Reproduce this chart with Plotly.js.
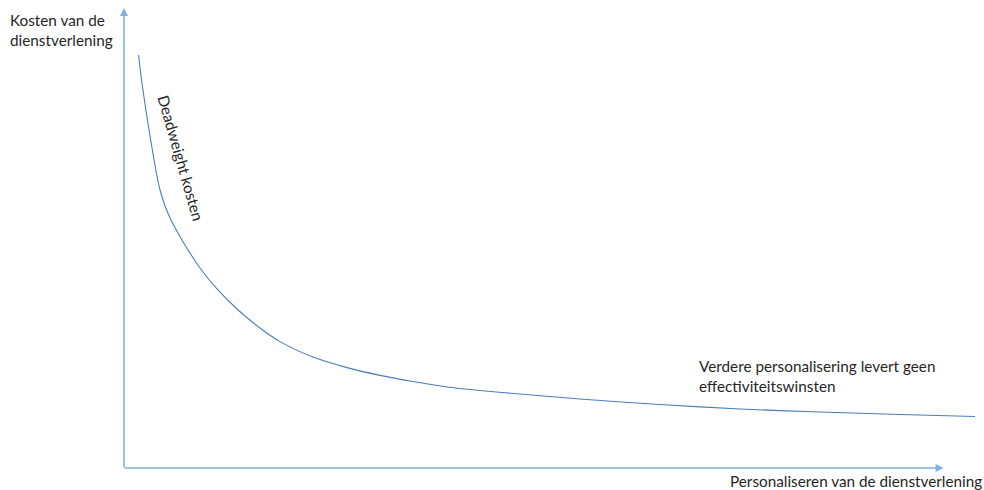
<!DOCTYPE html>
<html>
<head>
<meta charset="utf-8">
<script src="https://cdn.plot.ly/plotly-3.0.1.min.js"></script>
<style>html,body{margin:0;padding:0;background:#fff;}#chart{width:984px;height:490px;}</style>
</head>
<body>
<div id="chart"></div>
<script>
// Personalisation level (x) vs cost of service (y), arbitrary units 0-100
const personalisatie = [1.69, 2.09, 2.67, 3.26, 3.72, 4.19, 4.77, 5.47, 6.28, 7.09, 8.84, 10.81, 13.14, 15.81, 18.14, 21.98, 25.93, 29.77, 33.60, 37.56, 41.40, 46.05, 53.02, 62.33, 71.63, 80.93, 90.23, 98.95];
const kosten = [88.25, 82.26, 75.00, 68.38, 63.46, 59.40, 55.98, 52.99, 50.21, 47.65, 42.74, 38.25, 33.97, 29.91, 27.00, 23.70, 21.45, 19.80, 18.48, 17.31, 16.56, 15.81, 14.74, 13.57, 12.61, 11.97, 11.43, 11.00];

const yTitle = 'Kosten van de<br>dienstverlening';
const xTitle = 'Personaliseren van de dienstverlening';
const curveLabel = 'Deadweight kosten';
const tailLabel = 'Verdere personalisering levert geen<br>effectiviteitswinsten';

const W = 984, H = 490, L = 124, B = 22;
const px = v => (v - L) / (W - L);
const py = v => (H - B - v) / (H - B);
const font = {family: 'Lato, Calibri, sans-serif', size: 15.3, color: '#262626'};

const trace = {
  x: personalisatie, y: kosten, type: 'scatter', mode: 'lines',
  line: {color: '#4a7ebb', width: 1.1, shape: 'spline', smoothing: 0.8},
  hoverinfo: 'skip'
};

const layout = {
  width: W, height: H,
  margin: {l: L, r: 0, t: 0, b: B, pad: 0},
  paper_bgcolor: '#fff', plot_bgcolor: '#fff',
  showlegend: false,
  xaxis: {range: [0, 100], visible: false, fixedrange: true},
  yaxis: {range: [0, 100], visible: false, fixedrange: true},
  annotations: [
    // y-axis arrow
    {xref: 'x', yref: 'y', axref: 'x', ayref: 'y', x: 0, y: 98.3, ax: 0, ay: -0.2,
     showarrow: true, arrowhead: 2, arrowsize: 1, arrowwidth: 1.6, arrowcolor: '#7fb0e0', text: ''},
    // x-axis arrow
    {xref: 'x', yref: 'y', axref: 'x', ayref: 'y', x: 95.3, y: 0, ax: -0.1, ay: 0,
     showarrow: true, arrowhead: 2, arrowsize: 1, arrowwidth: 1.6, arrowcolor: '#7fb0e0', text: ''},
    {xref: 'paper', yref: 'paper', x: px(8), y: py(9), xanchor: 'left', yanchor: 'top',
     text: yTitle, showarrow: false, align: 'left', font: font},
    {xref: 'paper', yref: 'paper', x: px(984), y: py(470), xanchor: 'right', yanchor: 'top',
     text: xTitle, showarrow: false, align: 'left', font: font},
    {xref: 'paper', yref: 'paper', x: px(697), y: py(355), xanchor: 'left', yanchor: 'top',
     text: tailLabel, showarrow: false, align: 'left', font: font},
    {xref: 'paper', yref: 'paper', x: px(181), y: py(158), xanchor: 'center', yanchor: 'middle',
     text: curveLabel, showarrow: false, textangle: 74, font: font}
  ]
};

Plotly.newPlot('chart', [trace], layout, {displayModeBar: false, staticPlot: true});
</script>
</body>
</html>
